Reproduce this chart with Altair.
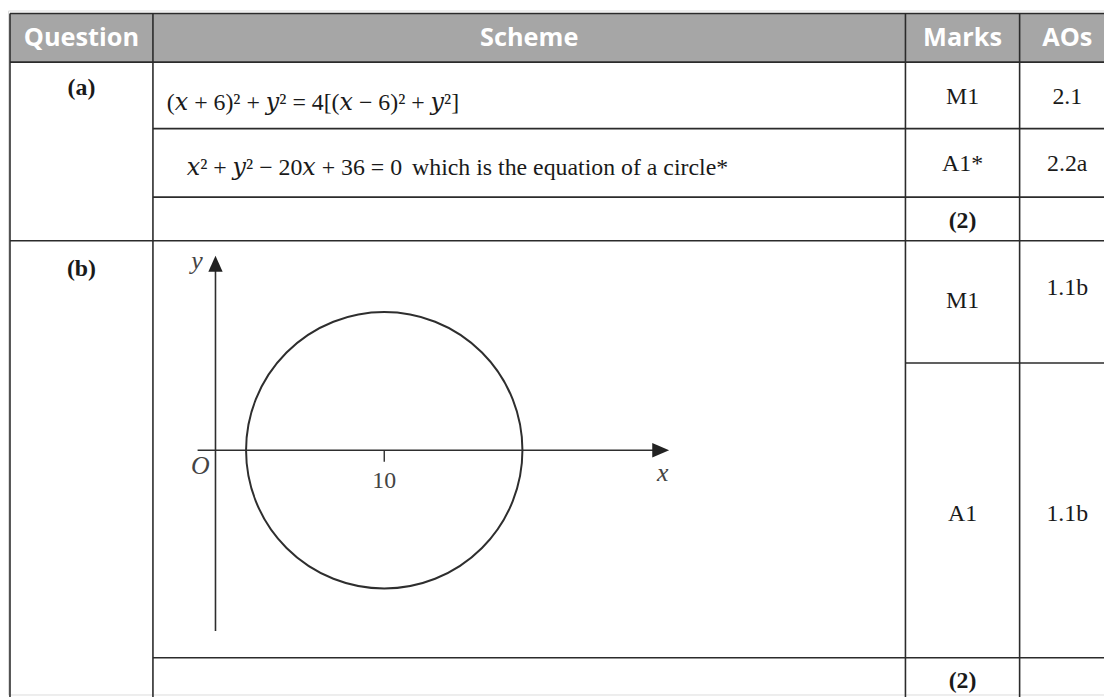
import altair as alt
import pandas as pd

# ---------------- content ----------------
header_labels = ["Question", "Scheme", "Marks", "AOs"]
question_labels = ["(a)", "(b)"]
scheme_equations = [
    "(𝑥 + 6)² + 𝑦² = 4[(𝑥 − 6)² + 𝑦²]",
    "𝑥² + 𝑦² − 20𝑥 + 36 = 0",
]
scheme_comment = ["which is the equation of a circle*"]
marks_texts = ["M1", "A1*", "(2)", "M1", "A1", "(2)"]
marks_bold = [False, False, True, False, False, True]
aos_texts = ["2.1", "2.2a", "1.1b", "1.1b"]

# diagram content: circle (x-10)^2 + y^2 = 64
circle_center_x = [10]
circle_center_y = [0]
circle_radius = 8
tick_values = [10]
tick_labels = ["10"]
axis_x_extent = [-1.06, 26.38]
axis_y_extent = [-10.4, 10.74]
axis_names = ["x", "y"]
origin_label = ["O"]

# ---------------- layout ----------------
W, H = 1104, 689
OX, OY = 8, 8
col_edges = [10, 154, 912, 1027, 1123]
row_edges = [11, 60, 127, 196, 240, 363, 660]
bottom = OY + H
h_rules = [(11, 0), (60, 0), (127, 1), (196, 1), (240, 0), (363, 2), (660, 1)]
header_mid = 36
question_base = [93, 275]
scheme_x = [168, 188]
scheme_base = [108, 174]
comment_x = [415]
marks_base = [102, 170, 227, 308, 522, 690]
aos_base = [102, 170, 295, 522]

LINE = "#2b2b2b"
INK = "#1a1a1a"
SERIF = "Liberation Serif"
MATH = "Liberation Serif, DejaVu Serif, serif"

xs = alt.Scale(domain=[OX, OX + W], nice=False, zero=False)
ys = alt.Scale(domain=[OY, OY + H], reverse=True, nice=False, zero=False)


def px_enc(extra=None):
    e = dict(x=alt.X("x:Q", scale=xs, axis=None), y=alt.Y("y:Q", scale=ys, axis=None))
    if extra:
        e.update(extra)
    return e


header_rect = alt.Chart(pd.DataFrame({
    "x": [col_edges[0]], "x2": [col_edges[-1]], "y": [row_edges[0]], "y2": [row_edges[1]]
})).mark_rect(color="#a6a6a6").encode(**px_enc({"x2": "x2:Q", "y2": "y2:Q"}))

rule_rows = []
for yv, ci in h_rules:
    rule_rows.append({"x": col_edges[ci], "x2": col_edges[-1], "y": yv, "y2": yv})
for xv in col_edges[:4]:
    rule_rows.append({"x": xv, "x2": xv, "y": row_edges[0], "y2": bottom + 10})
rules = alt.Chart(pd.DataFrame(rule_rows)).mark_rule(color=LINE, strokeWidth=1.6).encode(
    **px_enc({"x2": "x2:Q", "y2": "y2:Q"}))

centers = [(col_edges[i] + col_edges[i + 1]) / 2 for i in range(4)]

header_text = alt.Chart(pd.DataFrame({
    "text": header_labels, "x": centers, "y": [header_mid] * 4
})).mark_text(font="Open Sans", fontWeight="bold", fontSize=25.5, color="white",
              baseline="middle", align="center").encode(**px_enc({"text": "text:N"}))

q_text = alt.Chart(pd.DataFrame({
    "text": question_labels, "x": [centers[0]] * 2, "y": question_base
})).mark_text(font=SERIF, fontWeight="bold", fontSize=24, color=INK,
              baseline="alphabetic", align="center").encode(**px_enc({"text": "text:N"}))

eq_text = alt.Chart(pd.DataFrame({
    "text": scheme_equations, "x": scheme_x, "y": scheme_base
})).mark_text(font=MATH, fontSize=24, color=INK,
              baseline="alphabetic", align="left").encode(**px_enc({"text": "text:N"}))

comment_text = alt.Chart(pd.DataFrame({
    "text": scheme_comment, "x": comment_x, "y": [scheme_base[1]]
})).mark_text(font=SERIF, fontSize=24, color=INK,
              baseline="alphabetic", align="left").encode(**px_enc({"text": "text:N"}))

mdf = pd.DataFrame({"text": marks_texts, "bold": marks_bold,
                    "x": [centers[2]] * 6, "y": marks_base})
marks_reg = alt.Chart(mdf[~mdf["bold"]]).mark_text(
    font=SERIF, fontSize=24, color=INK, baseline="alphabetic", align="center"
).encode(**px_enc({"text": "text:N"}))
marks_b = alt.Chart(mdf[mdf["bold"]]).mark_text(
    font=SERIF, fontSize=24, fontWeight="bold", color=INK, baseline="alphabetic", align="center"
).encode(**px_enc({"text": "text:N"}))

aos_text = alt.Chart(pd.DataFrame({
    "text": aos_texts, "x": [centers[3]] * 4, "y": aos_base
})).mark_text(font=SERIF, fontSize=24, color=INK,
              baseline="alphabetic", align="center").encode(**px_enc({"text": "text:N"}))

table = alt.layer(header_rect, rules, header_text, q_text, eq_text, comment_text,
                  marks_reg, marks_b, aos_text)

# ---------------- diagram (math coordinates) ----------------
ORIGIN_PX = (217, 451)
PXU_X, PXU_Y = 17.0, 17.5
mx = alt.Scale(domain=[(OX - ORIGIN_PX[0]) / PXU_X, (OX + W - ORIGIN_PX[0]) / PXU_X],
               nice=False, zero=False)
my = alt.Scale(domain=[(ORIGIN_PX[1] - (OY + H)) / PXU_Y, (ORIGIN_PX[1] - OY) / PXU_Y],
               nice=False, zero=False)


def m_enc(extra=None):
    e = dict(x=alt.X("x:Q", scale=mx, axis=None), y=alt.Y("y:Q", scale=my, axis=None))
    if extra:
        e.update(extra)
    return e


DIAG = "#2e2e2e"
axes_df = pd.DataFrame([
    {"x": axis_x_extent[0], "x2": axis_x_extent[1], "y": 0, "y2": 0},
    {"x": 0, "x2": 0, "y": axis_y_extent[0], "y2": axis_y_extent[1]},
])
axes = alt.Chart(axes_df).mark_rule(color=DIAG, strokeWidth=1.6).encode(
    **m_enc({"x2": "x2:Q", "y2": "y2:Q"}))

tick_df = pd.DataFrame({"x": tick_values, "y": [0] * len(tick_values),
                        "y2": [-0.66] * len(tick_values), "label": tick_labels})
ticks = alt.Chart(tick_df).mark_rule(color=DIAG, strokeWidth=1.4).encode(
    **m_enc({"y2": "y2:Q"}))
tick_text = alt.Chart(tick_df).mark_text(
    font=SERIF, fontSize=24, color="#444", align="center", baseline="alphabetic", dy=38
).encode(**m_enc({"text": "label:N"}))

circle = alt.Chart(pd.DataFrame({"x": circle_center_x, "y": circle_center_y})).mark_point(
    shape="circle", filled=False, color=DIAG, strokeWidth=2, opacity=1,
    size=(2 * circle_radius * 17.4) ** 2
).encode(**m_enc())

arrow_up = alt.Chart(pd.DataFrame({"x": [0], "y": [axis_y_extent[1]]})).mark_point(
    shape="M0,-1L-0.9,1L0.9,1Z", filled=True, color="#222", opacity=1, size=256, strokeWidth=0
).encode(**m_enc())
arrow_right = alt.Chart(pd.DataFrame({"x": [axis_x_extent[1]], "y": [0]})).mark_point(
    shape="M1,0L-1,-0.85L-1,0.85Z", filled=True, color="#222", opacity=1, size=289, strokeWidth=0
).encode(**m_enc())

y_label = alt.Chart(pd.DataFrame({"x": [0], "y": [axis_y_extent[1]], "t": [axis_names[1]]})).mark_text(
    font=SERIF, fontStyle="italic", fontSize=26, color="#444", align="right",
    baseline="alphabetic", dx=-13, dy=5
).encode(**m_enc({"text": "t:N"}))
x_label = alt.Chart(pd.DataFrame({"x": [axis_x_extent[1]], "y": [0], "t": [axis_names[0]]})).mark_text(
    font=SERIF, fontStyle="italic", fontSize=26, color="#444", align="center",
    baseline="alphabetic", dx=2, dy=31
).encode(**m_enc({"text": "t:N"}))
o_label = alt.Chart(pd.DataFrame({"x": [0], "y": [0], "t": origin_label})).mark_text(
    font=SERIF, fontStyle="italic", fontSize=26, color="#444", align="right",
    baseline="alphabetic", dx=-6, dy=24
).encode(**m_enc({"text": "t:N"}))

diagram = alt.layer(circle, axes, ticks, tick_text, arrow_up, arrow_right,
                    y_label, x_label, o_label)

chart = alt.layer(table, diagram).resolve_scale(
    x="independent", y="independent"
).properties(
    width=W, height=H, padding=0, autosize=alt.AutoSizeParams(type="none")
).configure_view(stroke=None).configure(background="white")

chart.save("out.html", embed_options={"renderer": "svg", "actions": False})
